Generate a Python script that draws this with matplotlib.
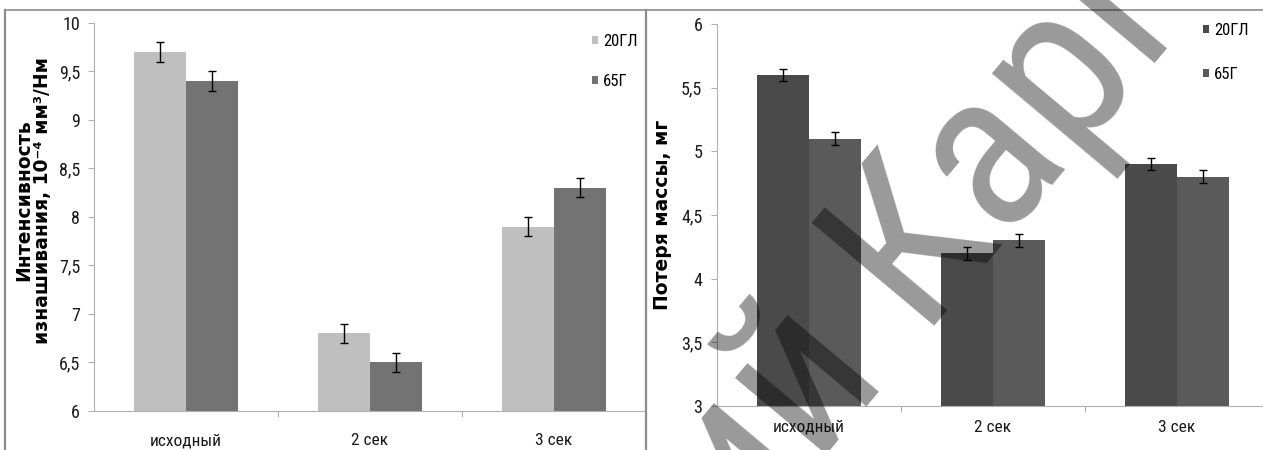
import matplotlib
matplotlib.use("Agg")
import matplotlib.pyplot as plt
from matplotlib import font_manager as fm
from matplotlib.lines import Line2D
from matplotlib.patches import Patch
import numpy as np

# ---------------- data ----------------
categories = ["исходный", "2 сек", "3 сек"]
series_names = ["20ГЛ", "65Г"]

left_20gl = [9.7, 6.8, 7.9]
left_65g = [9.4, 6.5, 8.3]
left_err_20gl = [0.1, 0.1, 0.1]
left_err_65g = [0.1, 0.1, 0.1]
left_yticks = [6, 6.5, 7, 7.5, 8, 8.5, 9, 9.5, 10]
left_ylabel = "Интенсивность\nизнашивания, 10⁻⁴ мм³/Нм"

right_20gl = [5.6, 4.2, 4.9]
right_65g = [5.1, 4.3, 4.8]
right_err_20gl = [0.05, 0.05, 0.05]
right_err_65g = [0.05, 0.05, 0.05]
right_yticks = [3, 3.5, 4, 4.5, 5, 5.5, 6]
right_ylabel = "Потеря массы, мг"

watermark = "ий Карl"

# ---------------- fonts ----------------
avail = {f.name for f in fm.fontManager.ttflist}
def pick(cands):
    for c in cands:
        if c in avail:
            return c
    return "DejaVu Sans"
tick_font = pick(["Liberation Sans Narrow", "Roboto Condensed", "Open Sans Condensed",
                  "DejaVu Sans Condensed", "Liberation Sans"])
wm_font = pick(["Roboto Condensed", "Liberation Sans Narrow", "Open Sans Condensed",
                "Liberation Sans"])
label_font = "DejaVu Sans"

W, H = 1263, 450
fig = plt.figure(figsize=(W / 100, H / 100), dpi=100)
fig.patch.set_facecolor("white")

def fx(px):
    return px / W
def fy(py):
    return 1 - py / H

def fmt(v):
    return ("%g" % v).replace(".", ",")

TXT = "#1a1a1a"
AXC = "#b0b0b0"

def make_panel(rect, s1, s2, e1, e2, yticks, ylabel, colors, ylabel_xy, xlab_pad, ytick_pad):
    ax = fig.add_axes(rect)
    x = np.arange(len(categories))
    w = 0.283
    ax.bar(x - w / 2, s1, width=w, color=colors[0], label=series_names[0], zorder=2)
    ax.bar(x + w / 2, s2, width=w, color=colors[1], label=series_names[1], zorder=2)
    ax.errorbar(x - w / 2, s1, yerr=e1, fmt="none", ecolor="black", elinewidth=1,
                capsize=3, capthick=1, zorder=3)
    ax.errorbar(x + w / 2, s2, yerr=e2, fmt="none", ecolor="black", elinewidth=1,
                capsize=3, capthick=1, zorder=3)
    ax.set_xlim(-0.5, len(categories) - 0.5)
    ax.set_ylim(yticks[0], yticks[-1])
    ax.set_yticks(yticks)
    ax.set_yticklabels([fmt(v) for v in yticks], fontsize=13, family=[tick_font, "DejaVu Sans"],
                       color=TXT)
    ax.set_xticks(x)
    ax.set_xticklabels(categories, fontsize=12.5, family=[tick_font, "DejaVu Sans"], color=TXT)
    ax.set_xticks(np.arange(len(categories)) + 0.5, minor=True)
    ax.tick_params(axis="x", which="major", length=0, pad=xlab_pad)
    ax.tick_params(axis="x", which="minor", length=4.5, color=AXC, width=0.8, direction="out")
    ax.tick_params(axis="y", which="major", length=4.5, color=AXC, width=0.8,
                   direction="out", pad=ytick_pad)
    for sp in ["top", "right"]:
        ax.spines[sp].set_visible(False)
    for sp in ["left", "bottom"]:
        ax.spines[sp].set_color(AXC)
        ax.spines[sp].set_linewidth(0.8)
    ax.set_facecolor("none")
    fig.text(ylabel_xy[0], ylabel_xy[1], ylabel, rotation=90, ha="center", va="center",
             fontsize=13.5, fontweight="bold", family=[label_font],
             multialignment="center", linespacing=1.0, color="black")
    return ax

# left panel
axL = make_panel([fx(94), fy(411), fx(646) - fx(94), fy(22.7) - fy(411)],
                 left_20gl, left_65g, left_err_20gl, left_err_65g, left_yticks, left_ylabel,
                 ["#bfbfbf", "#737373"], (fx(33), fy(200)), 16, 5.5)
# right panel
axR = make_panel([fx(717), fy(406), fx(1269) - fx(717), fy(24) - fy(406)],
                 right_20gl, right_65g, right_err_20gl, right_err_65g, right_yticks, right_ylabel,
                 ["#4a4a4a", "#5a5a5a"], (fx(662), fy(215)), 10, 6)

def add_legend(colors, x_px, y_px, spacing):
    handles = [Patch(facecolor=c, edgecolor="none") for c in colors]
    fig.legend(handles, series_names, loc="upper left", bbox_to_anchor=(fx(x_px), fy(y_px)),
               frameon=False, borderpad=0, borderaxespad=0, handlelength=0.38, handleheight=0.38,
               handletextpad=0.3, labelspacing=spacing,
               prop={"family": [tick_font, "DejaVu Sans"], "size": 12})

add_legend(["#bfbfbf", "#737373"], 592, 34, 1.5)
add_legend(["#4a4a4a", "#5a5a5a"], 1203, 23, 1.75)

# frame lines
frame_c = "#8c8c8c"
fig.add_artist(Line2D([fx(5), fx(W)], [fy(9.5), fy(9.5)], transform=fig.transFigure,
                      color=frame_c, lw=1.2))
fig.add_artist(Line2D([fx(5), fx(5)], [fy(9.5), fy(H)], transform=fig.transFigure,
                      color=frame_c, lw=1.6))
fig.add_artist(Line2D([fx(646), fx(646)], [fy(9.5), fy(H)], transform=fig.transFigure,
                      color=frame_c, lw=1.6))

# watermark
fig.text(fx(1178), fy(36), watermark, rotation=50, rotation_mode="anchor",
         ha="right", va="baseline", fontsize=162, color="black", alpha=0.4,
         family=[wm_font, "DejaVu Sans"], fontweight="normal", zorder=10)

fig.savefig("out.png", dpi=100)
